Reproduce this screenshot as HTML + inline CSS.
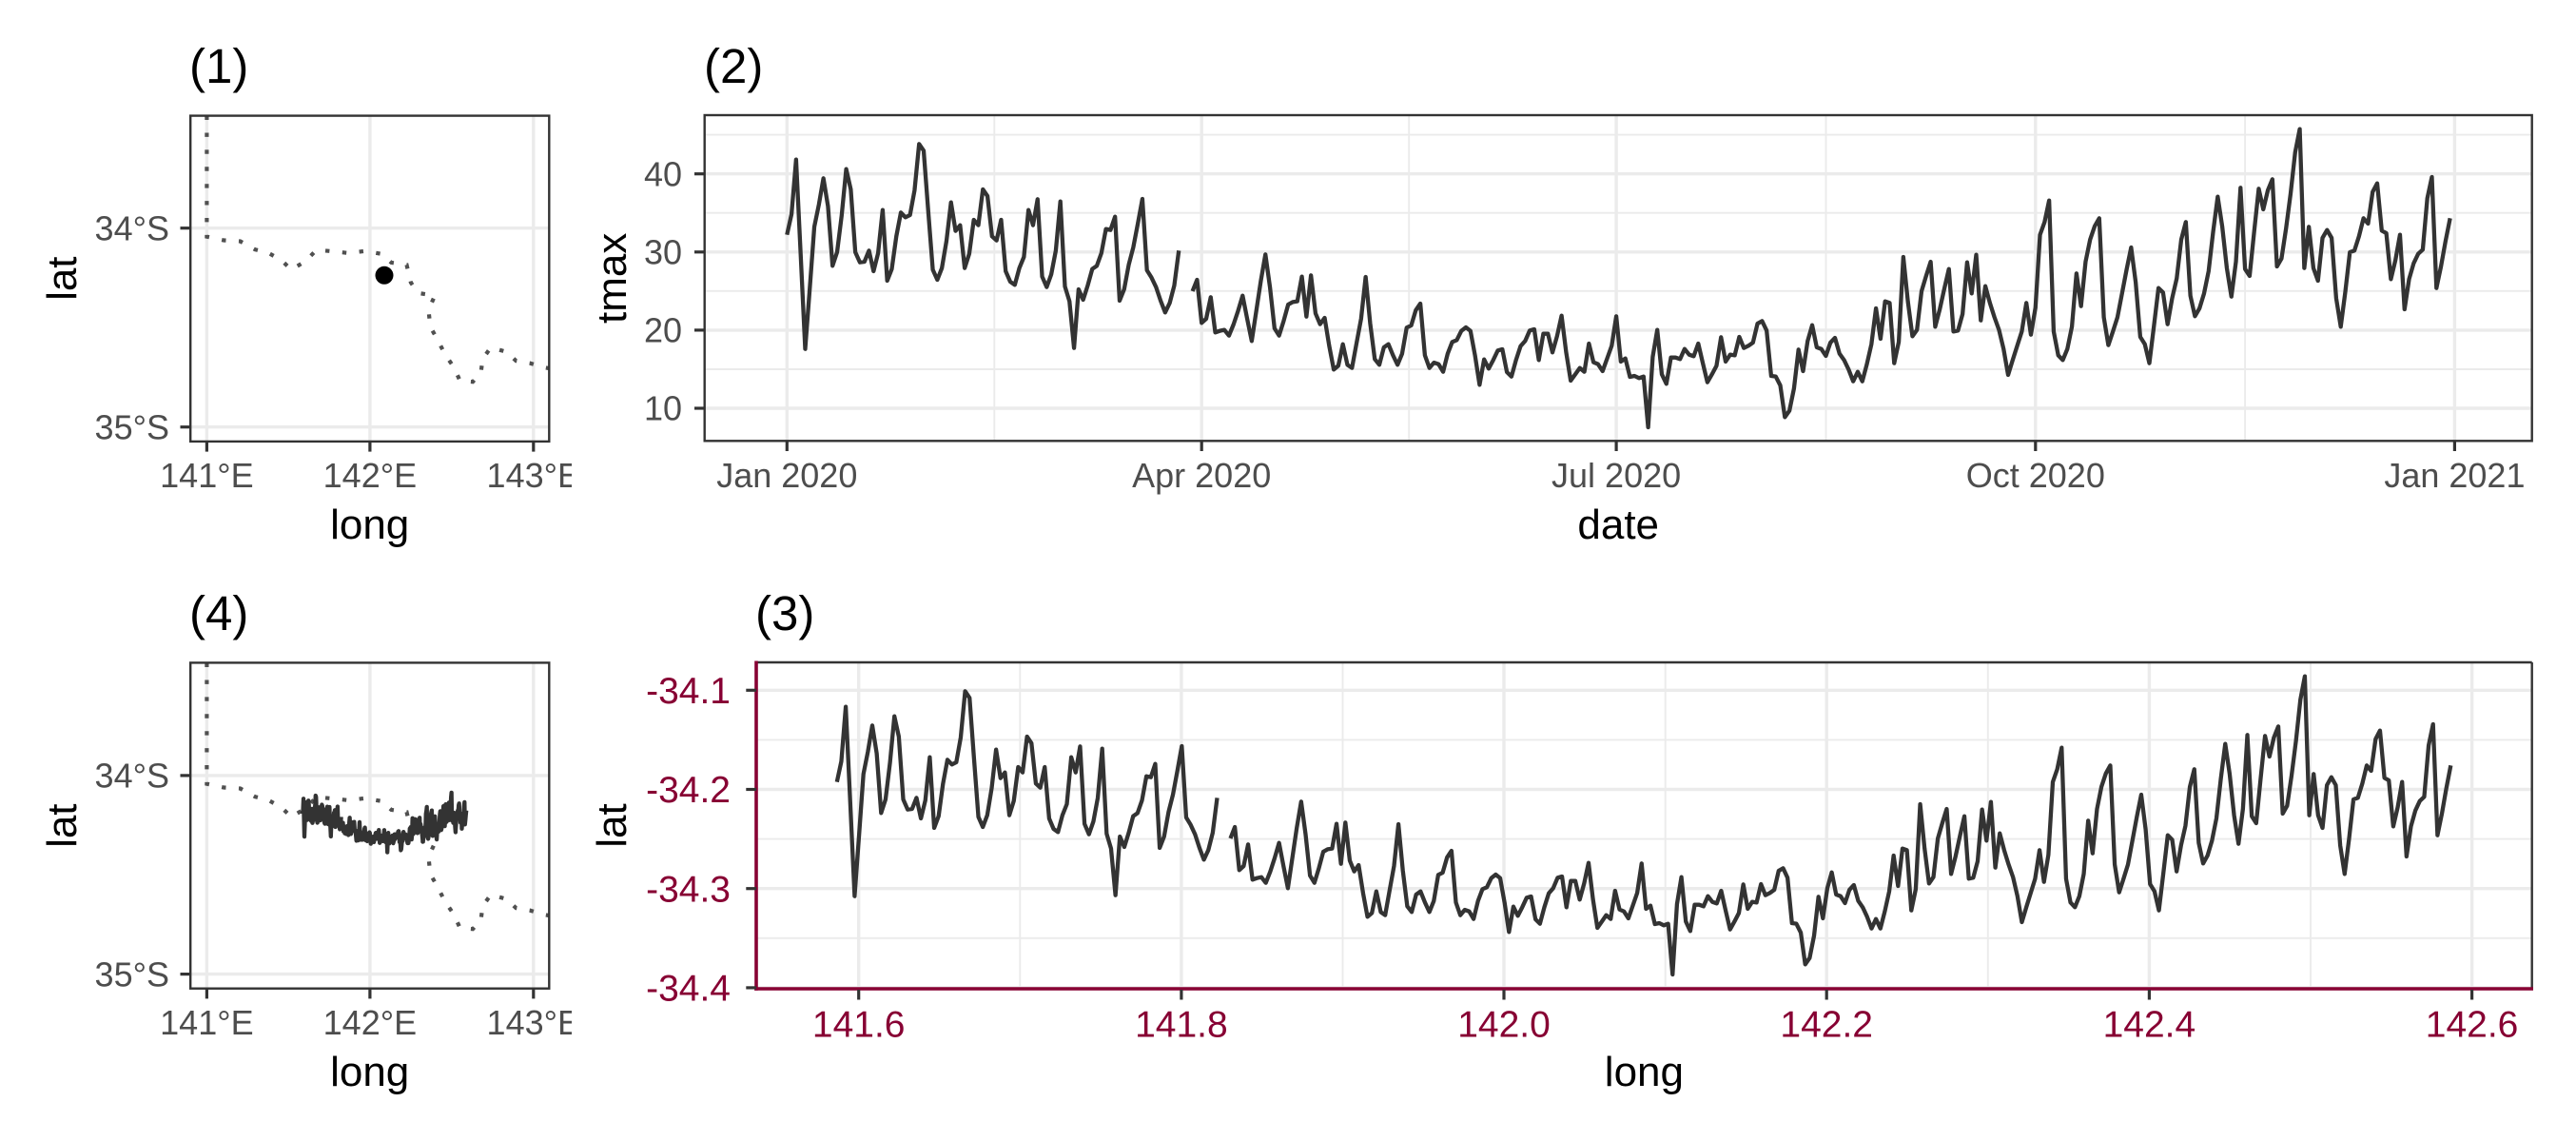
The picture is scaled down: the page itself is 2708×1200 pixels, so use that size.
<!DOCTYPE html>
<html>
<head>
<meta charset="utf-8">
<style>
html,body{margin:0;padding:0;background:#fff;}
svg{display:block;}
text{font-family:"Liberation Sans",Arial,sans-serif;}
.tk{font-size:36px;fill:#4D4D4D;}
.tkr{font-size:39px;fill:#870033;}
.at{font-size:44px;fill:#000;}
.tt{font-size:51px;fill:#000;}
.gM{stroke:#EBEBEB;stroke-width:3.4;fill:none;}
.gm{stroke:#EBEBEB;stroke-width:1.9;fill:none;}
.tick{stroke:#333;stroke-width:3.2;}
.border{fill:none;stroke:#333;stroke-width:2.4;}
.data{fill:none;stroke:#333;stroke-width:4.3;stroke-linejoin:round;vector-effect:non-scaling-stroke;}
.dots{fill:none;stroke:#505050;stroke-width:4.2;stroke-dasharray:4.4 13.5;}
</style>
</head>
<body>
<svg width="2708" height="1200" viewBox="0 0 2708 1200" xmlns="http://www.w3.org/2000/svg">
<defs>
<clipPath id="cp1"><rect x="200.2" y="121.6" width="377.1" height="342.3"/></clipPath>
<clipPath id="cp4"><rect x="200.2" y="696.4" width="377.1" height="342.3"/></clipPath>
<clipPath id="cl"><rect x="0" y="0" width="601" height="1200"/></clipPath>
</defs>
<rect x="0" y="0" width="2708" height="1200" fill="#fff"/>

<!-- ============ PANEL 1 ============ -->
<text class="tt" x="199" y="87">(1)</text>
<rect x="200.2" y="121.6" width="377.1" height="342.3" fill="#fff"/>
<g>
<line class="gM" x1="217.4" y1="121.6" x2="217.4" y2="463.9"/>
<line class="gM" x1="388.9" y1="121.6" x2="388.9" y2="463.9"/>
<line class="gM" x1="560.8" y1="121.6" x2="560.8" y2="463.9"/>
<line class="gM" x1="200.2" y1="239.7" x2="577.3" y2="239.7"/>
<line class="gM" x1="200.2" y1="448.7" x2="577.3" y2="448.7"/>
</g>
<g clip-path="url(#cp1)">
<polyline class="dots" points="217.4,121.6 217.4,248.7 235.3,252.5 252.5,253.5 268.0,262.1 281.8,265.6 295.9,273.5 306.3,283.5 321.4,274.2 332.8,262.5 350.0,264.2 366.5,265.9 383.7,263.8 401.6,266.9 411.3,275.9 427.5,278.3 431.9,296.9 439.5,307.9 457.1,310.7 450.5,325.5 452.3,343.4 460.2,357.2 468.1,373.0 477.1,385.7 483.6,400.2 497.0,401.2 505.6,391.2 507.4,377.1 516.0,365.1 532.8,369.9 542.5,379.2 556.9,381.6 572.1,386.1 580,387.5"/>
<circle cx="404" cy="289.3" r="9.5" fill="#000"/>
</g>
<rect class="border" x="200.2" y="121.6" width="377.1" height="342.3"/>
<line class="tick" x1="189.5" y1="239.7" x2="200.2" y2="239.7"/>
<line class="tick" x1="189.5" y1="448.7" x2="200.2" y2="448.7"/>
<line class="tick" x1="217.4" y1="463.9" x2="217.4" y2="474.6"/>
<line class="tick" x1="388.9" y1="463.9" x2="388.9" y2="474.6"/>
<line class="tick" x1="560.8" y1="463.9" x2="560.8" y2="474.6"/>
<text class="tk" x="178" y="252.4" text-anchor="end">34°S</text>
<text class="tk" x="178" y="461.4" text-anchor="end">35°S</text>
<g clip-path="url(#cl)">
<text class="tk" x="217.4" y="512" text-anchor="middle">141°E</text>
<text class="tk" x="388.9" y="512" text-anchor="middle">142°E</text>
<text class="tk" x="560.8" y="512" text-anchor="middle">143°E</text>
</g>
<text class="at" x="388.7" y="566" text-anchor="middle">long</text>
<text class="at" transform="translate(80,292.7) rotate(-90)" text-anchor="middle">lat</text>

<!-- ============ PANEL 4 ============ -->
<text class="tt" x="199" y="662">(4)</text>
<rect x="200.2" y="696.4" width="377.1" height="342.3" fill="#fff"/>
<g>
<line class="gM" x1="217.4" y1="696.4" x2="217.4" y2="1038.7"/>
<line class="gM" x1="388.9" y1="696.4" x2="388.9" y2="1038.7"/>
<line class="gM" x1="560.8" y1="696.4" x2="560.8" y2="1038.7"/>
<line class="gM" x1="200.2" y1="814.9" x2="577.3" y2="814.9"/>
<line class="gM" x1="200.2" y1="1023.6" x2="577.3" y2="1023.6"/>
</g>
<g clip-path="url(#cp4)">
<polyline class="dots" transform="translate(0,575)" points="217.4,121.6 217.4,248.7 235.3,252.5 252.5,253.5 268.0,262.1 281.8,265.6 295.9,273.5 306.3,283.5 321.4,274.2 332.8,262.5 350.0,264.2 366.5,265.9 383.7,263.8 401.6,266.9 411.3,275.9 427.5,278.3 431.9,296.9 439.5,307.9 457.1,310.7 450.5,325.5 452.3,343.4 460.2,357.2 468.1,373.0 477.1,385.7 483.6,400.2 497.0,401.2 505.6,391.2 507.4,377.1 516.0,365.1 532.8,369.9 542.5,379.2 556.9,381.6 572.1,386.1 580,387.5"/>
<g transform="matrix(0.4715 0 0 0.066767 318.1 825.7)">
<polyline class="data" points="0,440 1,375 2,203 3,500 4,800 5,610 6,415 7,345 8,262 9,350 10,538 11,495 12,380 13,233 14,297 15,495 16,527 17,525 18,490 19,555 20,498 21,362 22,585 23,548 24,445 25,370 26,385 27,378 28,300 29,154 30,175 31,365 32,550 33,582 34,545 35,460 36,338 37,428 38,410 39,545 40,500 41,393 42,410 43,297 44,318 45,445 46,458 47,393 48,555 49,588 50,598 51,545 52,510 53,362 54,410 55,328 56,572 57,605 58,565 59,490 60,335 61,603 62,650 63,797 64,612 65,645 66,600 67,548 68,538 69,498 70,422 71,425 72,383 73,648 74,612 75,535 76,480 77,405 78,327 79,552 80,575 81,605 82,648 83,685 84,655 85,600 86,490"/>
<polyline class="data" points="89,618 90,582 91,718 92,705 93,637 94,748 95,743 96,740 97,758 98,723 99,680 100,632 101,705 102,775 103,680 104,585 105,502 106,605 107,735 108,758 109,712 110,660 111,652 112,650 113,572 114,698 115,568 116,688 117,722 118,702 119,790 120,865 121,853 122,785 123,850 124,860 125,782 126,705 127,573 128,720 129,832 130,850 131,795 132,785 133,820 134,850 135,815 136,733 137,726 138,678 139,657 140,820 141,860 142,843 143,848 144,872 145,815 146,778 147,772 148,743 149,732 150,743 151,820 152,913 153,833 154,862 155,835 156,805 157,801 158,873 159,887 160,835 161,791 162,775 163,742 164,738 165,835 166,752 167,752 168,811 169,760 170,695 171,810 172,900 173,880 174,860 175,872 176,783 177,842 178,848 179,870 180,830 181,790 182,697 183,840 184,830 185,888 186,885 187,892 188,887 189,1047 190,825 191,740 192,880 193,910 194,827 195,827 196,832 197,800 198,818 199,823 200,783 201,845 202,905 203,880 204,853 205,763 206,840 207,818 208,820 209,762 210,797 211,790 212,780 213,720 214,712 215,742 216,885 217,887 218,915 219,1015 220,995 221,925 222,802 223,870 224,775 225,725 226,795 227,800 228,822 229,780 230,765 231,815 232,835 233,865 234,902 235,872 236,902 237,848 238,785 239,672 240,768 241,650 242,655 243,845 244,778 245,510 246,650 247,760 248,740 249,618 250,570 251,525 252,730 253,675 254,610 255,548 256,745 257,742 258,690 259,527 260,625 261,503 262,710 263,602 264,655 265,700 266,740 267,800 268,882 269,835 270,790 271,745 272,655 273,755 274,670 275,440 276,400 277,332 278,745 279,820 280,835 281,800 282,730 283,562 284,665 285,525 286,455 287,413 288,388 289,700 290,788 291,745 292,700 293,625 294,550 295,480 296,590 297,762 298,785 299,845 300,728 301,608 302,622 303,722 304,640 305,578 306,455 307,400 308,632 309,697 310,672 311,625 312,555 313,430 314,320 315,415 316,545 317,635 318,525 319,292 320,548 321,570 322,430 323,295 324,360 325,300 326,265 327,540 328,515 329,420 330,310 331,180 332,107 333,545 334,415 335,545 336,585 337,450 338,425 339,450 340,640 341,730 342,620 343,495 344,490 345,445 346,388 347,405 348,305 349,278 350,427 351,435 352,580 353,520 354,440 355,675 356,580 357,530 358,500 359,487 360,325 361,258 362,608 363,540 364,460 365,388"/>
</g>
</g>
<rect class="border" x="200.2" y="696.4" width="377.1" height="342.3"/>
<line class="tick" x1="189.5" y1="814.9" x2="200.2" y2="814.9"/>
<line class="tick" x1="189.5" y1="1023.6" x2="200.2" y2="1023.6"/>
<line class="tick" x1="217.4" y1="1038.7" x2="217.4" y2="1049.4"/>
<line class="tick" x1="388.9" y1="1038.7" x2="388.9" y2="1049.4"/>
<line class="tick" x1="560.8" y1="1038.7" x2="560.8" y2="1049.4"/>
<text class="tk" x="178" y="827.6" text-anchor="end">34°S</text>
<text class="tk" x="178" y="1036.3" text-anchor="end">35°S</text>
<g clip-path="url(#cl)">
<text class="tk" x="217.4" y="1087" text-anchor="middle">141°E</text>
<text class="tk" x="388.9" y="1087" text-anchor="middle">142°E</text>
<text class="tk" x="560.8" y="1087" text-anchor="middle">143°E</text>
</g>
<text class="at" x="388.7" y="1141" text-anchor="middle">long</text>
<text class="at" transform="translate(80,867.7) rotate(-90)" text-anchor="middle">lat</text>

<!-- ============ PANEL 2 ============ -->
<text class="tt" x="740" y="87">(2)</text>
<rect x="740.7" y="121" width="1921" height="342.3" fill="#fff"/>
<g>
<line class="gm" x1="740.7" y1="141.6" x2="2661.7" y2="141.6"/>
<line class="gm" x1="740.7" y1="223.7" x2="2661.7" y2="223.7"/>
<line class="gm" x1="740.7" y1="305.8" x2="2661.7" y2="305.8"/>
<line class="gm" x1="740.7" y1="388" x2="2661.7" y2="388"/>
<line class="gm" x1="1045.3" y1="121" x2="1045.3" y2="463.3"/>
<line class="gm" x1="1481.2" y1="121" x2="1481.2" y2="463.3"/>
<line class="gm" x1="1919.5" y1="121" x2="1919.5" y2="463.3"/>
<line class="gm" x1="2360.1" y1="121" x2="2360.1" y2="463.3"/>
<line class="gM" x1="740.7" y1="182.7" x2="2661.7" y2="182.7"/>
<line class="gM" x1="740.7" y1="264.8" x2="2661.7" y2="264.8"/>
<line class="gM" x1="740.7" y1="346.9" x2="2661.7" y2="346.9"/>
<line class="gM" x1="740.7" y1="429" x2="2661.7" y2="429"/>
<line class="gM" x1="827.3" y1="121" x2="827.3" y2="463.3"/>
<line class="gM" x1="1263.2" y1="121" x2="1263.2" y2="463.3"/>
<line class="gM" x1="1699.1" y1="121" x2="1699.1" y2="463.3"/>
<line class="gM" x1="2139.8" y1="121" x2="2139.8" y2="463.3"/>
<line class="gM" x1="2580.4" y1="121" x2="2580.4" y2="463.3"/>
</g>
<g transform="matrix(4.79 0 0 0.333333 827.3 100)">
<polyline class="data" points="0,440 1,375 2,203 3,500 4,800 5,610 6,415 7,345 8,262 9,350 10,538 11,495 12,380 13,233 14,297 15,495 16,527 17,525 18,490 19,555 20,498 21,362 22,585 23,548 24,445 25,370 26,385 27,378 28,300 29,154 30,175 31,365 32,550 33,582 34,545 35,460 36,338 37,428 38,410 39,545 40,500 41,393 42,410 43,297 44,318 45,445 46,458 47,393 48,555 49,588 50,598 51,545 52,510 53,362 54,410 55,328 56,572 57,605 58,565 59,490 60,335 61,603 62,650 63,797 64,612 65,645 66,600 67,548 68,538 69,498 70,422 71,425 72,383 73,648 74,612 75,535 76,480 77,405 78,327 79,552 80,575 81,605 82,648 83,685 84,655 85,600 86,490"/>
<polyline class="data" points="89,618 90,582 91,718 92,705 93,637 94,748 95,743 96,740 97,758 98,723 99,680 100,632 101,705 102,775 103,680 104,585 105,502 106,605 107,735 108,758 109,712 110,660 111,652 112,650 113,572 114,698 115,568 116,688 117,722 118,702 119,790 120,865 121,853 122,785 123,850 124,860 125,782 126,705 127,573 128,720 129,832 130,850 131,795 132,785 133,820 134,850 135,815 136,733 137,726 138,678 139,657 140,820 141,860 142,843 143,848 144,872 145,815 146,778 147,772 148,743 149,732 150,743 151,820 152,913 153,833 154,862 155,835 156,805 157,801 158,873 159,887 160,835 161,791 162,775 163,742 164,738 165,835 166,752 167,752 168,811 169,760 170,695 171,810 172,900 173,880 174,860 175,872 176,783 177,842 178,848 179,870 180,830 181,790 182,697 183,840 184,830 185,888 186,885 187,892 188,887 189,1047 190,825 191,740 192,880 193,910 194,827 195,827 196,832 197,800 198,818 199,823 200,783 201,845 202,905 203,880 204,853 205,763 206,840 207,818 208,820 209,762 210,797 211,790 212,780 213,720 214,712 215,742 216,885 217,887 218,915 219,1015 220,995 221,925 222,802 223,870 224,775 225,725 226,795 227,800 228,822 229,780 230,765 231,815 232,835 233,865 234,902 235,872 236,902 237,848 238,785 239,672 240,768 241,650 242,655 243,845 244,778 245,510 246,650 247,760 248,740 249,618 250,570 251,525 252,730 253,675 254,610 255,548 256,745 257,742 258,690 259,527 260,625 261,503 262,710 263,602 264,655 265,700 266,740 267,800 268,882 269,835 270,790 271,745 272,655 273,755 274,670 275,440 276,400 277,332 278,745 279,820 280,835 281,800 282,730 283,562 284,665 285,525 286,455 287,413 288,388 289,700 290,788 291,745 292,700 293,625 294,550 295,480 296,590 297,762 298,785 299,845 300,728 301,608 302,622 303,722 304,640 305,578 306,455 307,400 308,632 309,697 310,672 311,625 312,555 313,430 314,320 315,415 316,545 317,635 318,525 319,292 320,548 321,570 322,430 323,295 324,360 325,300 326,265 327,540 328,515 329,420 330,310 331,180 332,107 333,545 334,415 335,545 336,585 337,450 338,425 339,450 340,640 341,730 342,620 343,495 344,490 345,445 346,388 347,405 348,305 349,278 350,427 351,435 352,580 353,520 354,440 355,675 356,580 357,530 358,500 359,487 360,325 361,258 362,608 363,540 364,460 365,388"/>
</g>
<rect class="border" x="740.7" y="121" width="1921" height="342.3"/>
<line class="tick" x1="730" y1="182.7" x2="740.7" y2="182.7"/>
<line class="tick" x1="730" y1="264.8" x2="740.7" y2="264.8"/>
<line class="tick" x1="730" y1="346.9" x2="740.7" y2="346.9"/>
<line class="tick" x1="730" y1="429" x2="740.7" y2="429"/>
<line class="tick" x1="827.3" y1="463.3" x2="827.3" y2="474"/>
<line class="tick" x1="1263.2" y1="463.3" x2="1263.2" y2="474"/>
<line class="tick" x1="1699.1" y1="463.3" x2="1699.1" y2="474"/>
<line class="tick" x1="2139.8" y1="463.3" x2="2139.8" y2="474"/>
<line class="tick" x1="2580.4" y1="463.3" x2="2580.4" y2="474"/>
<text class="tk" x="717" y="195.4" text-anchor="end">40</text>
<text class="tk" x="717" y="277.5" text-anchor="end">30</text>
<text class="tk" x="717" y="359.6" text-anchor="end">20</text>
<text class="tk" x="717" y="441.7" text-anchor="end">10</text>
<text class="tk" x="827.3" y="512" text-anchor="middle">Jan 2020</text>
<text class="tk" x="1263.2" y="512" text-anchor="middle">Apr 2020</text>
<text class="tk" x="1699.1" y="512" text-anchor="middle">Jul 2020</text>
<text class="tk" x="2139.8" y="512" text-anchor="middle">Oct 2020</text>
<text class="tk" x="2580.4" y="512" text-anchor="middle">Jan 2021</text>
<text class="at" x="1701.2" y="566" text-anchor="middle">date</text>
<text class="at" transform="translate(658,292.3) rotate(-90)" text-anchor="middle">tmax</text>

<!-- ============ PANEL 3 ============ -->
<text class="tt" x="794" y="662">(3)</text>
<rect x="795" y="696" width="1866.7" height="343" fill="#fff"/>
<g>
<line class="gm" x1="795" y1="777.4" x2="2661.7" y2="777.4"/>
<line class="gm" x1="795" y1="881.6" x2="2661.7" y2="881.6"/>
<line class="gm" x1="795" y1="985.8" x2="2661.7" y2="985.8"/>
<line class="gm" x1="1072.3" y1="696" x2="1072.3" y2="1039"/>
<line class="gm" x1="1411.5" y1="696" x2="1411.5" y2="1039"/>
<line class="gm" x1="1750.7" y1="696" x2="1750.7" y2="1039"/>
<line class="gm" x1="2089.8" y1="696" x2="2089.8" y2="1039"/>
<line class="gm" x1="2429" y1="696" x2="2429" y2="1039"/>
<line class="gM" x1="795" y1="725.3" x2="2661.7" y2="725.3"/>
<line class="gM" x1="795" y1="829.5" x2="2661.7" y2="829.5"/>
<line class="gM" x1="795" y1="933.7" x2="2661.7" y2="933.7"/>
<line class="gM" x1="795" y1="1037.9" x2="2661.7" y2="1037.9"/>
<line class="gM" x1="902.7" y1="696" x2="902.7" y2="1039"/>
<line class="gM" x1="1241.9" y1="696" x2="1241.9" y2="1039"/>
<line class="gM" x1="1581" y1="696" x2="1581" y2="1039"/>
<line class="gM" x1="1920.2" y1="696" x2="1920.2" y2="1039"/>
<line class="gM" x1="2259.4" y1="696" x2="2259.4" y2="1039"/>
<line class="gM" x1="2598.6" y1="696" x2="2598.6" y2="1039"/>
</g>
<g transform="matrix(4.648 0 0 0.333333 879.8 675)">
<polyline class="data" points="0,440 1,375 2,203 3,500 4,800 5,610 6,415 7,345 8,262 9,350 10,538 11,495 12,380 13,233 14,297 15,495 16,527 17,525 18,490 19,555 20,498 21,362 22,585 23,548 24,445 25,370 26,385 27,378 28,300 29,154 30,175 31,365 32,550 33,582 34,545 35,460 36,338 37,428 38,410 39,545 40,500 41,393 42,410 43,297 44,318 45,445 46,458 47,393 48,555 49,588 50,598 51,545 52,510 53,362 54,410 55,328 56,572 57,605 58,565 59,490 60,335 61,603 62,650 63,797 64,612 65,645 66,600 67,548 68,538 69,498 70,422 71,425 72,383 73,648 74,612 75,535 76,480 77,405 78,327 79,552 80,575 81,605 82,648 83,685 84,655 85,600 86,490"/>
<polyline class="data" points="89,618 90,582 91,718 92,705 93,637 94,748 95,743 96,740 97,758 98,723 99,680 100,632 101,705 102,775 103,680 104,585 105,502 106,605 107,735 108,758 109,712 110,660 111,652 112,650 113,572 114,698 115,568 116,688 117,722 118,702 119,790 120,865 121,853 122,785 123,850 124,860 125,782 126,705 127,573 128,720 129,832 130,850 131,795 132,785 133,820 134,850 135,815 136,733 137,726 138,678 139,657 140,820 141,860 142,843 143,848 144,872 145,815 146,778 147,772 148,743 149,732 150,743 151,820 152,913 153,833 154,862 155,835 156,805 157,801 158,873 159,887 160,835 161,791 162,775 163,742 164,738 165,835 166,752 167,752 168,811 169,760 170,695 171,810 172,900 173,880 174,860 175,872 176,783 177,842 178,848 179,870 180,830 181,790 182,697 183,840 184,830 185,888 186,885 187,892 188,887 189,1047 190,825 191,740 192,880 193,910 194,827 195,827 196,832 197,800 198,818 199,823 200,783 201,845 202,905 203,880 204,853 205,763 206,840 207,818 208,820 209,762 210,797 211,790 212,780 213,720 214,712 215,742 216,885 217,887 218,915 219,1015 220,995 221,925 222,802 223,870 224,775 225,725 226,795 227,800 228,822 229,780 230,765 231,815 232,835 233,865 234,902 235,872 236,902 237,848 238,785 239,672 240,768 241,650 242,655 243,845 244,778 245,510 246,650 247,760 248,740 249,618 250,570 251,525 252,730 253,675 254,610 255,548 256,745 257,742 258,690 259,527 260,625 261,503 262,710 263,602 264,655 265,700 266,740 267,800 268,882 269,835 270,790 271,745 272,655 273,755 274,670 275,440 276,400 277,332 278,745 279,820 280,835 281,800 282,730 283,562 284,665 285,525 286,455 287,413 288,388 289,700 290,788 291,745 292,700 293,625 294,550 295,480 296,590 297,762 298,785 299,845 300,728 301,608 302,622 303,722 304,640 305,578 306,455 307,400 308,632 309,697 310,672 311,625 312,555 313,430 314,320 315,415 316,545 317,635 318,525 319,292 320,548 321,570 322,430 323,295 324,360 325,300 326,265 327,540 328,515 329,420 330,310 331,180 332,107 333,545 334,415 335,545 336,585 337,450 338,425 339,450 340,640 341,730 342,620 343,495 344,490 345,445 346,388 347,405 348,305 349,278 350,427 351,435 352,580 353,520 354,440 355,675 356,580 357,530 358,500 359,487 360,325 361,258 362,608 363,540 364,460 365,388"/>
</g>
<line x1="795" y1="696" x2="2661.7" y2="696" stroke="#333" stroke-width="2.4"/>
<line x1="2661.7" y1="696" x2="2661.7" y2="1039" stroke="#333" stroke-width="2.4"/>
<line x1="795" y1="694.5" x2="795" y2="1040.8" stroke="#870033" stroke-width="3.6"/>
<line x1="793.2" y1="1039" x2="2663" y2="1039" stroke="#870033" stroke-width="3.6"/>
<line class="tick" x1="784.3" y1="725.3" x2="795" y2="725.3"/>
<line class="tick" x1="784.3" y1="829.5" x2="795" y2="829.5"/>
<line class="tick" x1="784.3" y1="933.7" x2="795" y2="933.7"/>
<line class="tick" x1="784.3" y1="1037.9" x2="795" y2="1037.9"/>
<line class="tick" x1="902.7" y1="1040" x2="902.7" y2="1050.5"/>
<line class="tick" x1="1241.9" y1="1040" x2="1241.9" y2="1050.5"/>
<line class="tick" x1="1581" y1="1040" x2="1581" y2="1050.5"/>
<line class="tick" x1="1920.2" y1="1040" x2="1920.2" y2="1050.5"/>
<line class="tick" x1="2259.4" y1="1040" x2="2259.4" y2="1050.5"/>
<line class="tick" x1="2598.6" y1="1040" x2="2598.6" y2="1050.5"/>
<text class="tkr" x="768" y="739" text-anchor="end">-34.1</text>
<text class="tkr" x="768" y="843.2" text-anchor="end">-34.2</text>
<text class="tkr" x="768" y="947.4" text-anchor="end">-34.3</text>
<text class="tkr" x="768" y="1051.6" text-anchor="end">-34.4</text>
<text class="tkr" x="902.7" y="1089.5" text-anchor="middle">141.6</text>
<text class="tkr" x="1241.9" y="1089.5" text-anchor="middle">141.8</text>
<text class="tkr" x="1581" y="1089.5" text-anchor="middle">142.0</text>
<text class="tkr" x="1920.2" y="1089.5" text-anchor="middle">142.2</text>
<text class="tkr" x="2259.4" y="1089.5" text-anchor="middle">142.4</text>
<text class="tkr" x="2598.6" y="1089.5" text-anchor="middle">142.6</text>
<text class="at" x="1728.4" y="1141" text-anchor="middle">long</text>
<text class="at" transform="translate(658,867.5) rotate(-90)" text-anchor="middle">lat</text>
</svg>
</body>
</html>
